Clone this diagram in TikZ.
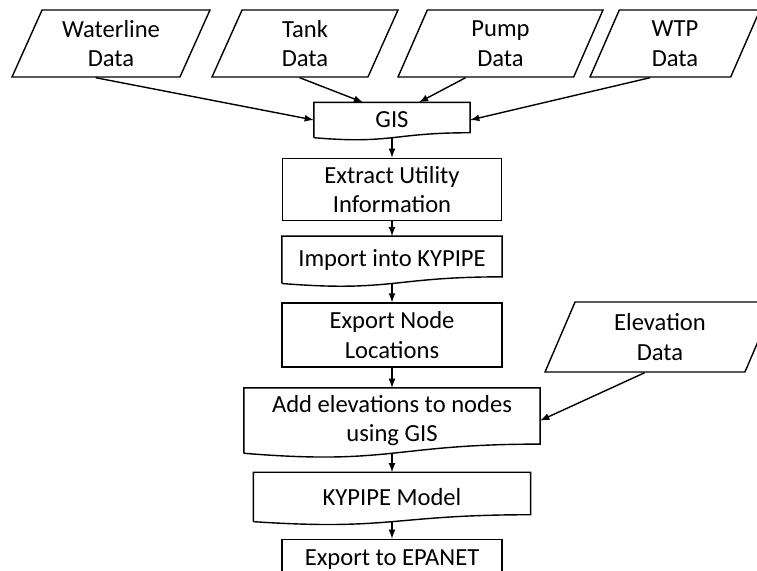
\documentclass[tikz,border=0pt]{standalone}
\usepackage{fontspec}
\setmainfont{Carlito}
\usetikzlibrary{arrows,shapes,positioning,calc}

\tikzset{
  data/.style={trapezium, trapezium left angle=60, trapezium right angle=120,
    trapezium stretches body, draw, align=center, minimum height=1.34cm},
  proc/.style={rectangle, draw, align=center},
  doc/.style={rectangle, align=center},
  flow/.style={->, >=latex}
}
% document shape: wavy bottom drawn round a named node
\newcommand{\wavy}[1]{%
  \draw (#1.south west) |- (#1.north east)
    -- ($(#1.north east)!0.86!(#1.south east)$)
    .. controls ($(#1.north)!0.86!(#1.south)$) and ($(#1.north)!1.187!(#1.south)$)
    .. (#1.south west);}

\begin{document}
\begin{tikzpicture}[x=0.02cm, y=-0.02cm, line width=0.8pt, inner sep=1.5pt,
    font=\fontsize{14}{16.8}\selectfont, node distance=0.38cm]
  \useasboundingbox (0,0) rectangle (757,571);
  % input data
  \node [data, minimum width=3.96cm] (waterline) at (111,43.5) {Waterline\\Data};
  \node [data, minimum width=3.72cm] (tank) at (305,43.5) {Tank\\Data};
  \node [data, minimum width=4.1cm] (pump) at (500.5,43.5) {Pump\\Data};
  \node [data, minimum width=3.4cm] (wtp) at (675,43.5) {WTP\\Data};
  % main chain
  \node [doc, minimum width=3.1cm, minimum height=0.68cm] (gis) at (392,120) {GIS};
  \node [proc, below=0.4cm of gis, minimum width=4.38cm, minimum height=1.24cm] (extract) {Extract Utility\\Information};
  \node [doc, below=0.3cm of extract, minimum width=4.38cm, minimum height=0.92cm] (import) {Import into KYPIPE};
  \node [proc, below=of import, minimum width=4.4cm, minimum height=1.28cm] (export) {Export Node\\Locations};
  \node [doc, below=0.4cm of export, minimum width=5.9cm, minimum height=1.28cm] (addelev) {Add elevations to nodes\\using GIS};
  \node [doc, below=of addelev, minimum width=5.52cm, minimum height=0.96cm] (kypipe) {KYPIPE Model};
  \node [proc, below=0.34cm of kypipe, minimum width=4.4cm, minimum height=0.8cm] (epanet) {Export to EPANET};
  \node [data, minimum width=4.6cm, minimum height=1.4cm] (elev) at (660,337) {Elevation\\Data};

  \wavy{gis}
  \wavy{import}
  \wavy{addelev}
  \wavy{kypipe}

  \draw [flow] (waterline.bottom side) -- (gis.west);
  \draw [flow] ($(tank.bottom side)+(10,0)$) -- ($(gis.north)+(-29,0)$);
  \draw [flow] ($(pump.bottom side)+(-20,0)$) -- ($(gis.north)+(27,0)$);
  \draw [flow] ($(wtp.bottom side)+(-10,0)$) -- (gis.east);
  \draw [flow] (gis) -- (extract);
  \draw [flow] (extract) -- (import);
  \draw [flow] (import) -- (export);
  \draw [flow] (export) -- (addelev);
  \draw [flow] (addelev) -- (kypipe);
  \draw [flow] (kypipe) -- (epanet);
  \draw [flow] (elev.bottom side) -- (addelev.east);
\end{tikzpicture}
\end{document}
